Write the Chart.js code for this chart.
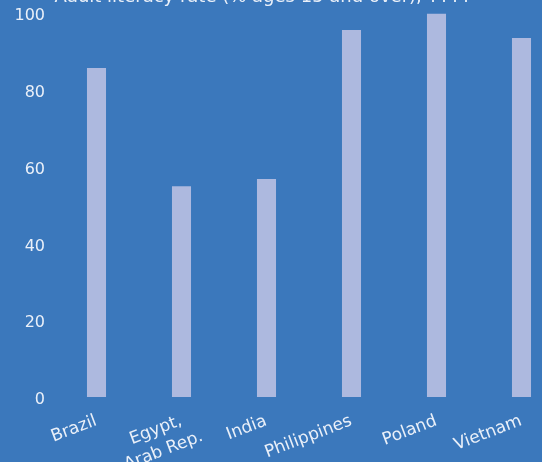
<!DOCTYPE html>
<html>
<head>
<meta charset="utf-8">
<script src="https://cdn.jsdelivr.net/npm/chart.js@4/dist/chart.umd.min.js"></script>
<style>
  html, body { margin: 0; padding: 0; width: 542px; height: 462px; overflow: hidden; background: #3b78bc; }
  #wrap { position: absolute; left: 0; top: -20px; width: 566px; height: 500px; }
</style>
</head>
<body>
<div id="wrap"><canvas id="c" width="566" height="500"></canvas></div>
<script>
// Adult literacy rate by country
const categories = ['Brazil', ['Egypt,', 'Arab Rep.'], 'India', 'Philippines', 'Poland', 'Vietnam'];
const literacyRate = [85.7, 54.9, 56.8, 95.6, 99.8, 93.5];
const yTicks = [0, 20, 40, 60, 80, 100];
const chartTitle = 'Adult literacy rate (% ages 15 and over), YYYY';

const textColor = '#eaf0f9';
const barColor = '#adb9df';

// Title drawn by hand so it can sit partly above the canvas edge
const titlePlugin = {
  id: 'topTitle',
  afterDraw(chart) {
    const ctx = chart.ctx;
    ctx.save();
    ctx.font = '18px "DejaVu Sans"';
    ctx.fillStyle = textColor;
    ctx.textAlign = 'center';
    ctx.textBaseline = 'alphabetic';
    ctx.fillText(chartTitle, 263, 22);
    ctx.restore();
  }
};

// Rotated category labels: the first line ends at the tick, further lines
// are centred under the first one
const categoryLabelPlugin = {
  id: 'categoryLabels',
  afterDraw(chart) {
    const xs = chart.scales.x;
    const ctx = chart.ctx;
    const angle = -21 * Math.PI / 180;
    const fontSize = 17;
    const lineGap = 22;
    ctx.save();
    ctx.font = fontSize + 'px "DejaVu Sans"';
    ctx.fillStyle = textColor;
    ctx.textBaseline = 'middle';
    ctx.textAlign = 'center';
    xs.ticks.forEach((t, i) => {
      const raw = chart.data.labels[i];
      const lines = Array.isArray(raw) ? raw : [raw];
      const x = xs.getPixelForTick(i) - 4;
      const y = chart.chartArea.bottom + 14;
      const w0 = ctx.measureText(lines[0]).width;
      ctx.save();
      ctx.translate(x, y);
      ctx.rotate(angle);
      lines.forEach((line, j) => {
        ctx.fillText(line, -w0 / 2, fontSize * 0.6 + j * lineGap);
      });
      ctx.restore();
    });
    ctx.restore();
  }
};

new Chart(document.getElementById('c'), {
  type: 'bar',
  data: {
    labels: categories,
    datasets: [{
      data: literacyRate,
      backgroundColor: barColor,
      borderWidth: 0,
      barPercentage: 0.224,
      categoryPercentage: 1.0
    }]
  },
  options: {
    responsive: false,
    devicePixelRatio: 1,
    animation: false,
    layout: { padding: { top: 33, right: 2, left: 0, bottom: 0 } },
    plugins: {
      legend: { display: false },
      title: { display: false },
      tooltip: { enabled: false }
    },
    scales: {
      x: {
        grid: { display: false, drawTicks: false },
        border: { display: false },
        ticks: { display: false, autoSkip: false },
        afterFit(scale) { scale.height = 83; }
      },
      y: {
        min: 0,
        max: 100,
        grid: { display: false, drawTicks: false },
        border: { display: false },
        afterBuildTicks(scale) { scale.ticks = yTicks.map(v => ({ value: v })); },
        ticks: {
          color: textColor,
          font: { family: '"DejaVu Sans"', size: 16 },
          padding: 9,
          labelOffset: 3
        },
        afterFit(scale) { scale.width = 54; }
      }
    }
  },
  plugins: [titlePlugin, categoryLabelPlugin]
});
</script>
</body>
</html>
